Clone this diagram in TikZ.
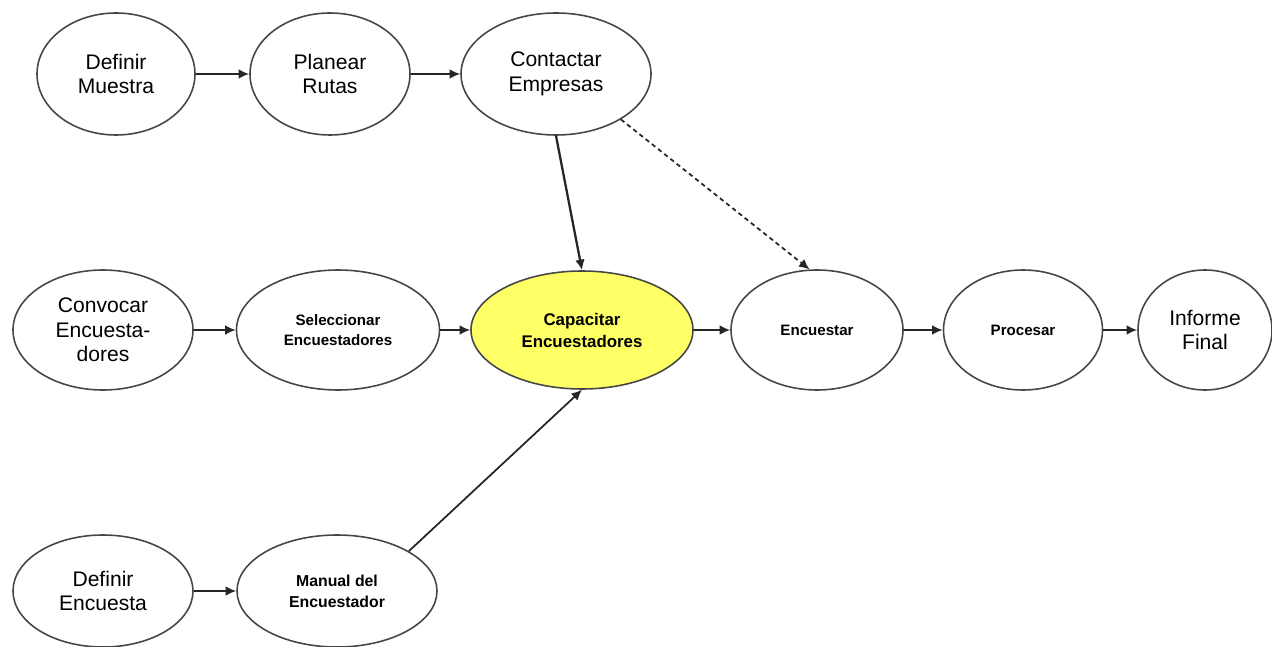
\documentclass[tikz,border=0pt]{standalone}
\usepackage{fontspec}
\setmainfont{Liberation Sans}
\usepackage{tikz}
\usetikzlibrary{positioning}
\usetikzlibrary{calc}
\usetikzlibrary{arrows.meta}
\usetikzlibrary{shapes.geometric}
\definecolor{rim}{RGB}{70,70,70}
\definecolor{yellow}{RGB}{255,255,102}

\begin{document}
\begin{tikzpicture}
			\tikzstyle{place}=[ellipse, draw=rim, line width=0.9pt, inner sep=0pt, align=center, font=\fontsize{12}{14}\selectfont]
			\tikzstyle{placeb}=[place, font=\fontsize{8.6}{11.5}\selectfont\bfseries]
			\tikzstyle{link}=[-{Latex[length=6pt,width=5.5pt]}, line width=1pt, black!85]
			
			\useasboundingbox (0,0) rectangle (25.44,-12.94);
			
			\draw node at (2.32, -1.48) [place, minimum width=3.16cm, minimum height=2.44cm] (muestra) {Definir\\Muestra};
			\draw node at (6.60, -1.48) [place, minimum width=3.2cm, minimum height=2.44cm] (rutas) {Planear\\Rutas};
			\draw node at (11.12, -1.48) [place, minimum width=3.8cm, minimum height=2.44cm] (contactar) {Contactar\\Empresas};
			
			\draw [link]  (muestra) to (rutas);
			\draw [link]  (rutas) to (contactar);
			
			\draw node at (2.06, -6.60) [place, minimum width=3.6cm, minimum height=2.4cm] (convocar) {Convocar\\Encuesta-\\dores};
			\draw node at (6.76, -6.60) [placeb, minimum width=4.06cm, minimum height=2.4cm] (seleccionar) {Seleccionar\\Encuestadores};
			\draw node at (11.64, -6.60) [placeb, fill=yellow, minimum width=4.44cm, minimum height=2.36cm, font=\fontsize{9.6}{12.5}\selectfont\bfseries] (capacitar) {Capacitar\\Encuestadores};
			\draw node at (16.34, -6.60) [placeb, minimum width=3.44cm, minimum height=2.4cm] (encuestar) {Encuestar};
			\draw node at (20.46, -6.60) [placeb, minimum width=3.18cm, minimum height=2.4cm] (procesar) {Procesar};
			\draw node at (24.10, -6.60) [place, minimum width=2.68cm, minimum height=2.4cm] (informe) {Informe\\Final};
			
			\draw [link]  (convocar) to (seleccionar);
			\draw [link]  (seleccionar) to (capacitar);
			\draw [link]  (capacitar) to (encuestar);
			\draw [link]  (encuestar) to (procesar);
			\draw [link]  (procesar) to (informe);
			
			\draw node at (2.06, -11.82) [place, minimum width=3.6cm, minimum height=2.24cm] (encuesta) {Definir\\Encuesta};
			\draw node at (6.74, -11.82) [placeb, minimum width=4.0cm, minimum height=2.24cm, font=\fontsize{9}{12}\selectfont\bfseries] (manual) {Manual del\\Encuestador};
			
			\draw [link]  (encuesta) to (manual);
			\draw [link]  (manual.29) to (capacitar.south);
			
			\draw [link, line width=1.3pt]  (contactar.south) to (capacitar.north);
			\draw [link, dash pattern=on 2.5pt off 2pt]  (contactar.-35) to (encuestar.97);
			\end{tikzpicture}
\end{document}
